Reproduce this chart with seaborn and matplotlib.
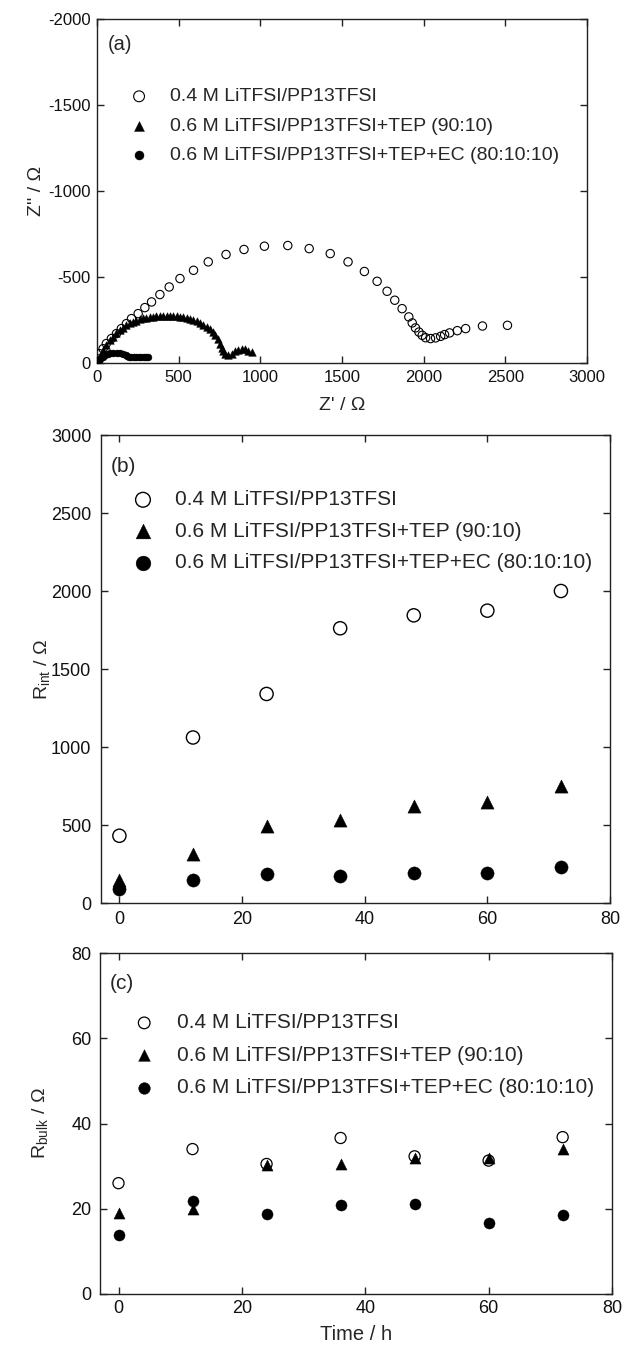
import numpy as np
import pandas as pd
import matplotlib
matplotlib.use("Agg")
import matplotlib.pyplot as plt
import seaborn as sns

# ---------------- data ----------------
labels = [
    "0.4 M LiTFSI/PP13TFSI",
    "0.6 M LiTFSI/PP13TFSI+TEP (90:10)",
    "0.6 M LiTFSI/PP13TFSI+TEP+EC (80:10:10)",
]

# (a) Nyquist plots: Z' and Z'' in ohm
zre_il = [0, 16, 37, 57, 88, 119, 149, 180, 211, 252, 293, 334, 385, 442, 508, 591,
          681, 790, 900, 1025, 1168, 1299, 1428, 1537, 1637, 1715, 1776, 1823, 1868,
          1909, 1930, 1950, 1971, 1991, 2012, 2042, 2073, 2104, 2128, 2159, 2206,
          2257, 2360, 2513]
zim_il = [-25, -54, -83, -113, -142, -171, -200, -229, -258, -287, -322, -355, -398,
          -442, -491, -539, -588, -631, -660, -679, -683, -665, -636, -588, -532, -475,
          -417, -365, -316, -268, -233, -204, -180, -161, -147, -142, -146, -155, -165,
          -175, -188, -200, -215, -219]

zre_tep = [0, 16, 37, 57, 78, 98, 119, 139, 160, 180, 201, 221, 241, 262, 282, 303,
           323, 344, 364, 385, 405, 426, 446, 467, 487, 507, 528, 548, 569, 589, 610,
           630, 651, 671, 692, 708, 724, 741, 753, 763, 773, 784, 804, 825, 845, 866,
           886, 906, 927, 947]
zim_tep = [-10, -38, -75, -104, -132, -154, -173, -190, -205, -219, -230, -239, -247,
           -254, -260, -263, -266, -270, -272, -274, -274, -274, -274, -274, -272, -270,
           -266, -262, -257, -251, -243, -234, -223, -210, -195, -178, -160, -137, -113,
           -89, -67, -52, -46, -55, -68, -77, -80, -80, -72, -62]

zre_ec = [0, 10, 20, 35, 50, 65, 80, 100, 120, 140, 160, 175, 185, 195, 210, 225,
          240, 255, 270, 285, 300, 312]
zim_ec = [-5, -15, -25, -35, -45, -52, -57, -60, -61, -60, -55, -45, -38, -34, -33,
          -33, -34, -35, -35, -35, -35, -35]

# (b), (c) resistances versus storage time
time_h = [0, 12, 24, 36, 48, 60, 72]
rint_il = [431, 1061, 1340, 1761, 1844, 1874, 2000]
rint_tep = [149, 314, 491, 534, 619, 649, 747]
rint_ec = [90, 149, 188, 171, 192, 192, 228]
rbulk_il = [26.0, 34.0, 30.5, 36.6, 32.3, 31.3, 36.8]
rbulk_tep = [19.0, 20.0, 30.2, 30.5, 31.8, 32.0, 34.0]
rbulk_ec = [13.9, 21.9, 18.7, 20.8, 21.2, 16.6, 18.6]

# ---------------- style ----------------
sns.set_style("ticks", {
    "xtick.direction": "in",
    "ytick.direction": "in",
    "axes.edgecolor": "#222222",
})
plt.rcParams["font.family"] = ["Liberation Sans", "DejaVu Sans"]
plt.rcParams["mathtext.default"] = "regular"
plt.rcParams["axes.unicode_minus"] = False
plt.rcParams["axes.linewidth"] = 1.0
plt.rcParams["xtick.major.size"] = 5
plt.rcParams["ytick.major.size"] = 5
plt.rcParams["xtick.major.width"] = 1.0
plt.rcParams["ytick.major.width"] = 1.0
plt.rcParams["xtick.color"] = "#222222"
plt.rcParams["ytick.color"] = "#222222"
plt.rcParams["xtick.labelcolor"] = "#111111"
plt.rcParams["ytick.labelcolor"] = "#111111"

fig = plt.figure(figsize=(6.41, 13.45), dpi=100)
W, H = 641.0, 1345.0


def axes_px(x0, x1, y0, y1):
    return fig.add_axes([x0 / W, 1 - y1 / H, (x1 - x0) / W, (y1 - y0) / H])


ax_a = axes_px(97, 587, 19, 363)
ax_b = axes_px(101, 610, 435, 903)
ax_c = axes_px(100, 612, 953, 1294)


def draw_series(ax, xs, ys, size_open, size_tri, size_fill, lw):
    x1, x2, x3 = xs
    y1, y2, y3 = ys
    sns.scatterplot(x=x1, y=y1, ax=ax, marker="o", s=size_open ** 2, color="black",
                    facecolor="none", edgecolor="black", linewidth=lw,
                    label=labels[0], zorder=3)
    sns.scatterplot(x=x2, y=y2, ax=ax, marker="^", s=size_tri ** 2, color="black",
                    edgecolor="black", linewidth=0.3, label=labels[1], zorder=4)
    sns.scatterplot(x=x3, y=y3, ax=ax, marker="o", s=size_fill ** 2, color="black",
                    edgecolor="black", linewidth=0.3, label=labels[2], zorder=5)


def finish(ax, tick_pad_x, tick_pad_y, size):
    ax.tick_params(which="both", top=True, right=True, labelsize=size)
    ax.tick_params(axis="x", pad=tick_pad_x)
    ax.tick_params(axis="y", pad=tick_pad_y)
    for s in ax.spines.values():
        s.set_visible(True)


# ---------------- (a) ----------------
draw_series(ax_a, (zre_il, zre_tep, zre_ec), (zim_il, zim_tep, zim_ec), 6.0, 5.5, 5.0, 0.8)
ax_a.set_xlim(0, 3000)
ax_a.set_ylim(0, -2000)
ax_a.set_xticks(np.arange(0, 3001, 500))
ax_a.set_yticks(np.arange(0, -2001, -500))
finish(ax_a, 5, 4.5, 12)
ax_a.set_xlabel("Z' / \u03a9", fontsize=14, labelpad=9)
ax_a.set_ylabel("Z'' / \u03a9", fontsize=14)
ax_a.yaxis.set_label_coords(-0.106, 0.5)
ax_a.text(0.022, 0.925, "(a)", transform=ax_a.transAxes, fontsize=14.5, va="center", ha="left")
ax_a.legend(loc="upper left", bbox_to_anchor=(0.066, 0.80), frameon=False, fontsize=14,
            borderpad=0, borderaxespad=0, handlelength=1.0, handletextpad=1.1,
            labelspacing=0.6, markerscale=1.3)

# ---------------- (b) ----------------
draw_series(ax_b, (time_h, time_h, time_h), (rint_il, rint_tep, rint_ec), 9.5, 9.5, 9.5, 1.0)
ax_b.set_xlim(-3, 80)
ax_b.set_ylim(0, 3000)
ax_b.set_xticks(np.arange(0, 81, 20))
ax_b.set_yticks(np.arange(0, 3001, 500))
finish(ax_b, 6, 7, 13)
ax_b.set_xlabel("")
ax_b.set_ylabel("R$_{int}$ / \u03a9", fontsize=14)
ax_b.yaxis.set_label_coords(-0.097, 0.5)
ax_b.text(0.02, 0.932, "(b)", transform=ax_b.transAxes, fontsize=15, va="center", ha="left")
ax_b.legend(loc="upper left", bbox_to_anchor=(0.062, 0.882), frameon=False, fontsize=15,
            borderpad=0, borderaxespad=0, handlelength=1.0, handletextpad=1.05,
            labelspacing=0.6, markerscale=1.12)

# ---------------- (c) ----------------
draw_series(ax_c, (time_h, time_h, time_h), (rbulk_il, rbulk_tep, rbulk_ec), 8.0, 8.0, 8.0, 0.9)
ax_c.set_xlim(-3, 80)
ax_c.set_ylim(0, 80)
ax_c.set_xticks(np.arange(0, 81, 20))
ax_c.set_yticks(np.arange(0, 81, 20))
finish(ax_c, 4, 6, 13)
ax_c.set_xlabel("Time / h", fontsize=14.5, labelpad=6)
ax_c.set_ylabel("R$_{bulk}$ / \u03a9", fontsize=14)
ax_c.yaxis.set_label_coords(-0.097, 0.5)
ax_c.text(0.02, 0.91, "(c)", transform=ax_c.transAxes, fontsize=15, va="center", ha="left")
ax_c.legend(loc="upper left", bbox_to_anchor=(0.066, 0.823), frameon=False, fontsize=15,
            borderpad=0, borderaxespad=0, handlelength=1.0, handletextpad=1.05,
            labelspacing=0.64, markerscale=1.05)

fig.savefig("out.png", dpi=100, facecolor="white")
